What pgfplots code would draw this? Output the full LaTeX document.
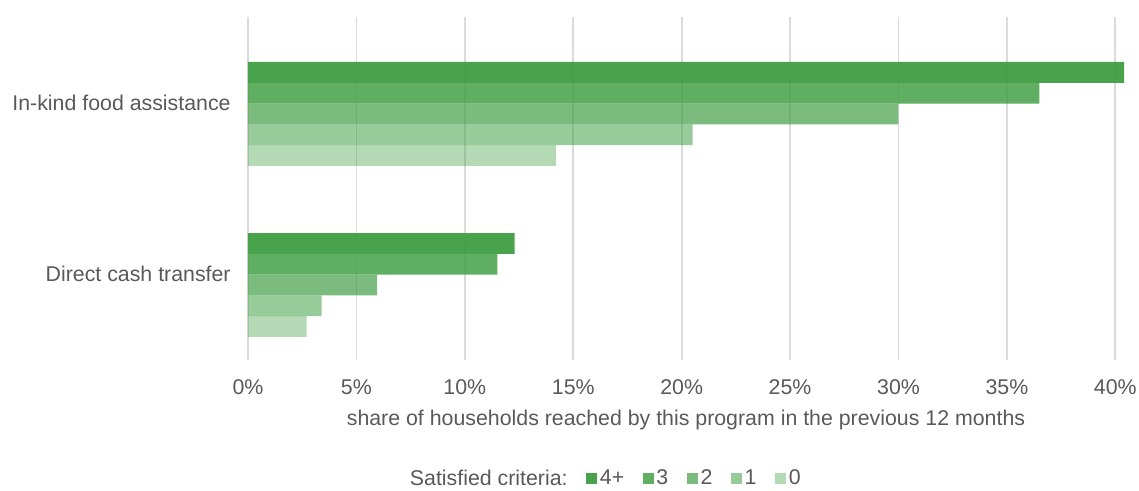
\documentclass[border=0pt]{standalone}
\usepackage{pgfplots}
\usepackage{pgfplotstable}
\pgfplotsset{compat=1.18}
\usepackage{fontspec}
\setmainfont{Liberation Sans}
\definecolor{g}{HTML}{43A047}
\definecolor{txt}{HTML}{595959}
\definecolor{gridc}{HTML}{DADADA}
\pgfplotstableread{
y v4 v3 v2 v1 v0
0 40.4 36.5 30.0 20.5 14.2
1 12.3 11.5 5.95 3.4 2.7
}\data
\begin{document}
\begin{tikzpicture}
\begin{axis}[
  scale only axis,
  width=657pt, height=257.25pt,
  xmin=0, xmax=40.4,
  ymin=-0.567, ymax=1.4386,
  y dir=reverse,
  xbar, bar width=0.1216,
  axis line style={draw=none},
  major tick length=0pt,
  xmajorgrids,
  grid style={gridc, line width=1.3pt},
  xtick={0,5,...,40},
  xticklabel={\pgfmathprintnumber{\tick}\%},
  /pgf/number format/assume math mode=true,
  ytick={0,1},
  yticklabels={In-kind food assistance, Direct cash transfer},
  tick label style={font=\fontsize{16}{19}\selectfont, text=txt},
  xticklabel style={yshift=-11pt},
  yticklabel style={xshift=-9.5pt, yshift=8pt},
  xlabel={share of households reached by this program in the previous 12 months},
  xlabel style={font=\fontsize{16}{19}\selectfont, text=txt, yshift=-5pt},
  legend columns=6,
  legend style={draw=none, font=\fontsize{16}{19}\selectfont, text=txt,
    at={(0.18,-0.345)}, anchor=west, inner sep=1pt,
    /tikz/every even column/.append style={column sep=12pt}},
  legend image code/.code={\fill[#1] (0pt,-4.1pt) rectangle (8.2pt,4.1pt);},
  clip=false,
]
\addlegendimage{empty legend}
\addlegendentry{Satisfied criteria:}
\addplot[draw=none, fill=g, fill opacity=0.97, bar shift=-0.2432] table[x=v4,y=y]{\data};
\addlegendentry{4+}
\addplot[draw=none, fill=g, fill opacity=0.85, bar shift=-0.1216] table[x=v3,y=y]{\data};
\addlegendentry{3}
\addplot[draw=none, fill=g, fill opacity=0.7, bar shift=0] table[x=v2,y=y]{\data};
\addlegendentry{2}
\addplot[draw=none, fill=g, fill opacity=0.55, bar shift=0.1216] table[x=v1,y=y]{\data};
\addlegendentry{1}
\addplot[draw=none, fill=g, fill opacity=0.4, bar shift=0.2432] table[x=v0,y=y]{\data};
\addlegendentry{0}
\coordinate (sw) at (axis description cs:0,0);
\coordinate (ne) at (axis description cs:1,1);
\end{axis}
\pgfresetboundingbox
\path[use as bounding box] ([xshift=-186pt,yshift=-97.5pt]sw) rectangle ([xshift=11.25pt,yshift=12.75pt]ne);
\end{tikzpicture}
\end{document}
